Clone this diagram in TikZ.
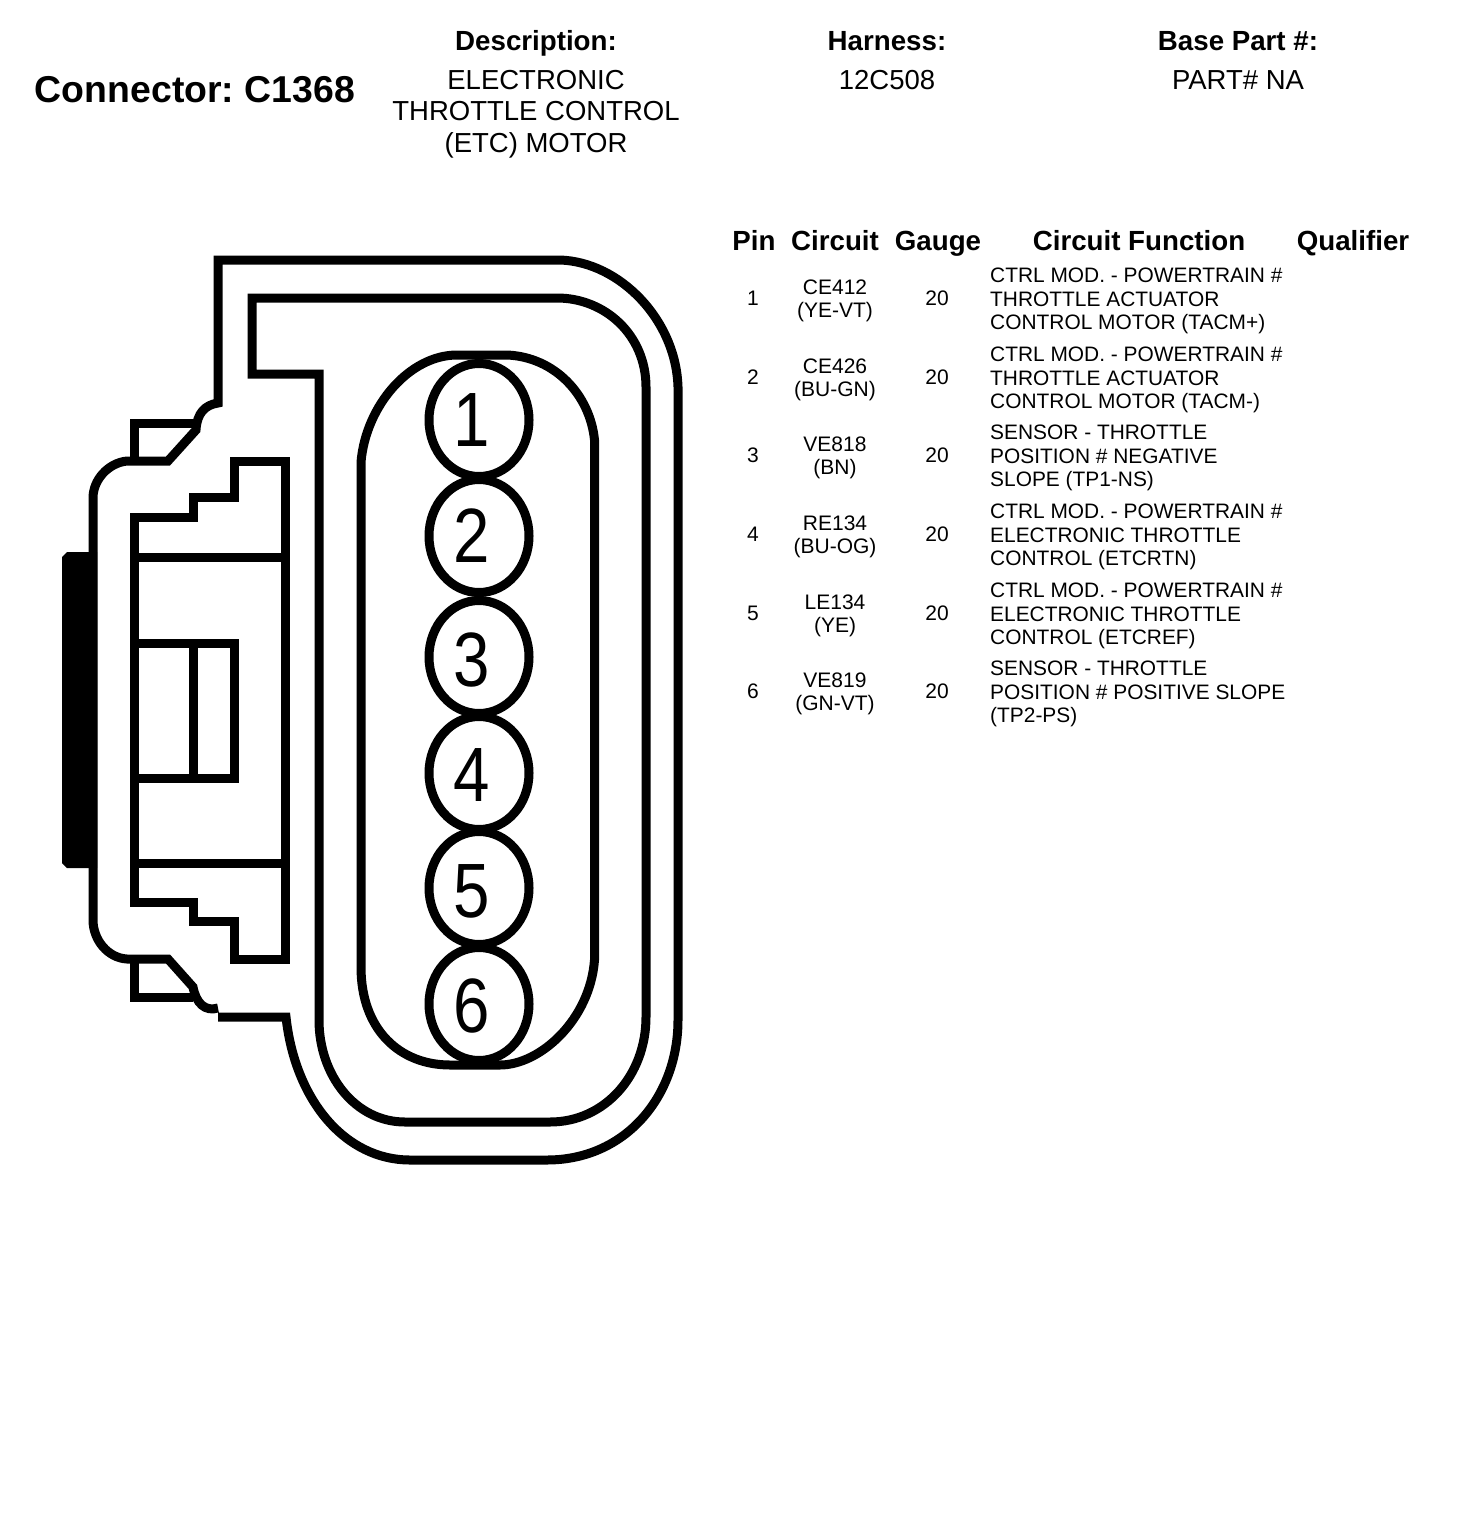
\documentclass[tikz,border=0pt]{standalone}
\usepackage{fontspec}
\setmainfont{Liberation Sans}
\newfontfamily\pinfont[FakeStretch=0.85]{Liberation Sans}
\usetikzlibrary{shapes.geometric}
\frenchspacing

\begin{document}
\begin{tikzpicture}[x=1pt,y=-1pt,
    wall/.style={draw,line width=9pt},
    pinring/.style={draw,ellipse,line width=9pt,inner sep=0pt,minimum width=100pt,minimum height=113pt},
    pinnum/.style={inner sep=0pt,font=\pinfont\fontsize{77}{77}\selectfont},
    bighead/.style={inner sep=0pt,anchor=base,font=\bfseries\fontsize{27.7}{32}\selectfont},
    bigtext/.style={inner sep=0pt,align=center,font=\fontsize{27.5}{31.5}\selectfont},
    rowtext/.style={inner sep=0pt,align=center,font=\fontsize{21}{23.5}\selectfont},
    functext/.style={inner sep=0pt,anchor=west,align=left,font=\fontsize{20.9}{23.5}\selectfont}]
  \useasboundingbox (0,0) rectangle (1472,1528);

  %title block
  \node[inner sep=0pt,font=\bfseries\fontsize{37.4}{40}\selectfont] (title) at (195,90) {Connector: C1368};
  \node[bighead] (hdesc) at (536,51) {Description:};
  \node[bighead] (hharn) at (887,51) {Harness:};
  \node[bighead] (hbase) at (1238,51) {Base Part \#:};
  \node[bigtext,anchor=north] (desc) at (536,70) {ELECTRONIC\\THROTTLE CONTROL\\(ETC) MOTOR};
  \node[bigtext,anchor=north] (harn) at (887,70) {12C508};
  \node[bigtext,anchor=north] (base) at (1238,70) {PART\# NA};

  %table heads
  \node[bighead] (hpin) at (754,250) {Pin};
  \node[bighead] (hcirc) at (835,250) {Circuit};
  \node[bighead] (hgauge) at (938,250) {Gauge};
  \node[bighead] (hfunc) at (1139,250) {Circuit Function};
  \node[bighead] (hqual) at (1353,250) {Qualifier};

  %table rows
  \node[rowtext] (p1) at (753,298) {1};
  \node[rowtext] (c1) at (835,301) {CE412\\(YE-VT)};
  \node[rowtext] (g1) at (937,298) {20};
  \node[functext] (f1) at (990,301) {CTRL MOD. - POWERTRAIN \#\\THROTTLE ACTUATOR\\CONTROL MOTOR (TACM+)};

  \node[rowtext] (p2) at (753,377) {2};
  \node[rowtext] (c2) at (835,380) {CE426\\(BU-GN)};
  \node[rowtext] (g2) at (937,377) {20};
  \node[functext] (f2) at (990,380) {CTRL MOD. - POWERTRAIN \#\\THROTTLE ACTUATOR\\CONTROL MOTOR (TACM-)};

  \node[rowtext] (p3) at (753,455) {3};
  \node[rowtext] (c3) at (835,458) {VE818\\(BN)};
  \node[rowtext] (g3) at (937,455) {20};
  \node[functext] (f3) at (990,458) {SENSOR - THROTTLE\\POSITION \# NEGATIVE\\SLOPE (TP1-NS)};

  \node[rowtext] (p4) at (753,534) {4};
  \node[rowtext] (c4) at (835,537) {RE134\\(BU-OG)};
  \node[rowtext] (g4) at (937,534) {20};
  \node[functext] (f4) at (990,537) {CTRL MOD. - POWERTRAIN \#\\ELECTRONIC THROTTLE\\CONTROL (ETCRTN)};

  \node[rowtext] (p5) at (753,613) {5};
  \node[rowtext] (c5) at (835,616) {LE134\\(YE)};
  \node[rowtext] (g5) at (937,613) {20};
  \node[functext] (f5) at (990,616) {CTRL MOD. - POWERTRAIN \#\\ELECTRONIC THROTTLE\\CONTROL (ETCREF)};

  \node[rowtext] (p6) at (753,691) {6};
  \node[rowtext] (c6) at (835,694) {VE819\\(GN-VT)};
  \node[rowtext] (g6) at (937,691) {20};
  \node[functext] (f6) at (990,694) {SENSOR - THROTTLE\\POSITION \# POSITIVE SLOPE\\(TP2-PS)};

  %outer shell
  \draw[wall] (218,1017) -- (286,1017) .. controls (295,1100) and (345,1160) .. (410,1160)
    -- (547,1160) .. controls (625,1160) and (678,1097) .. (678,1020)
    -- (678,387) .. controls (676,320) and (620,262) .. (560,260)
    -- (218,260) -- (218,403) .. controls (205,405) and (197,413) .. (196,430)
    -- (168,461) -- (127,461) .. controls (108,463) and (93,480) .. (93,498)
    -- (93,920) .. controls (93,940) and (108,958) .. (127,959)
    -- (168,959) -- (193,987) .. controls (196,1003) and (205,1012) .. (218,1008);

  %inner wall
  \draw[wall] (557,298) -- (252,298) -- (252,374) -- (319,374)
    -- (319,1020) .. controls (319,1075) and (355,1122) .. (405,1122)
    -- (550,1122) .. controls (605,1122) and (646,1075) .. (646,1017)
    -- (646,387) .. controls (646,335) and (605,298) .. (557,298) -- cycle;

  %capsule round the pins
  \draw[wall] (361,462) .. controls (366,405) and (410,355) .. (457,355) -- (507,355)
    .. controls (555,357) and (590,395) .. (594.5,440) -- (594.5,960)
    .. controls (590,1020) and (540,1065) .. (500,1065) -- (450,1065)
    .. controls (400,1065) and (361,1030) .. (361,967) -- cycle;

  %pins
  \node[pinring] (ring1) at (479,420) {};
  \node[pinring] (ring2) at (479,536) {};
  \node[pinring] (ring3) at (479,657) {};
  \node[pinring] (ring4) at (479,773) {};
  \node[pinring] (ring5) at (479,888) {};
  \node[pinring] (ring6) at (479,1004) {};
  \node[pinnum] (num1) at (472,420) {1};
  \node[pinnum] (num2) at (472,536) {2};
  \node[pinnum] (num3) at (472,660) {3};
  \node[pinnum] (num4) at (472,775) {4};
  \node[pinnum] (num5) at (472,891) {5};
  \node[pinnum] (num6) at (472,1006) {6};

  %latch block on the left
  \fill (62,557) -- (67,552) -- (97,552) -- (97,868) -- (67,868) -- (62,863) -- cycle;
  \draw[wall] (134,462) -- (134,423) -- (197,423);
  \draw[wall] (134,959) -- (134,997) -- (193,997);
  \draw[wall] (134,902) -- (134,517) -- (193,517) -- (193,497) -- (234,497) -- (234,461)
    -- (285,461) -- (285,959) -- (234,959) -- (234,921) -- (193,921) -- (193,902) -- cycle;
  \draw[wall] (134,557) -- (285,557);
  \draw[wall] (134,863) -- (285,863);
  \draw[wall] (134,643) -- (234,643) -- (234,778) -- (134,778);
  \draw[wall] (193,643) -- (193,778);
\end{tikzpicture}
\end{document}
